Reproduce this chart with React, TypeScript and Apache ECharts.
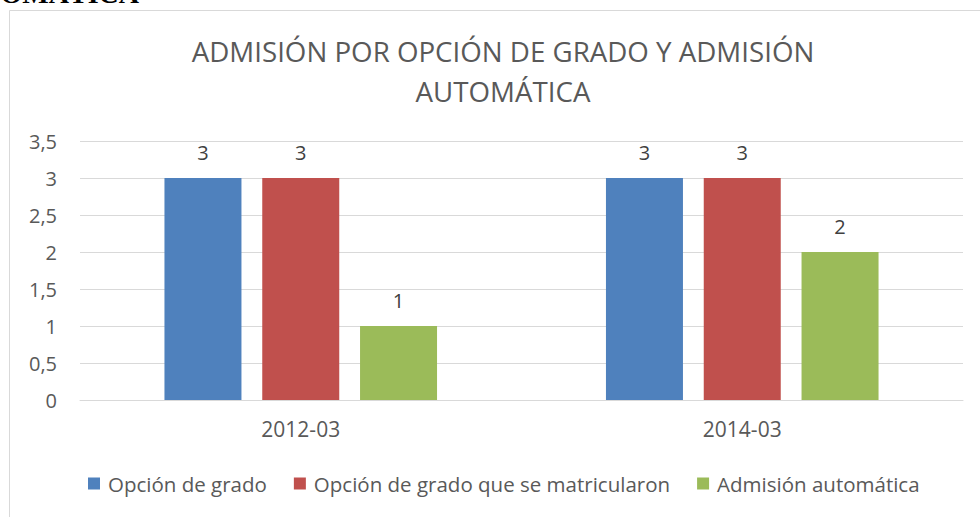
import React, { useEffect, useRef } from "react";
import * as echarts from "echarts";

const categories = ["2012-03", "2014-03"];
const seriesNames = [
  "Opción de grado",
  "Opción de grado que se matricularon",
  "Admisión automática",
];
const opcionGrado = [3, 3];
const opcionMatricularon = [3, 3];
const admisionAutomatica = [1, 2];
const colors = ["#4f81bd", "#c0504d", "#9bbb59"];
const titleText = "ADMISIÓN POR OPCIÓN DE GRADO Y ADMISIÓN\nAUTOMÁTICA";
const headingText = "AUTOMÁTICA";

const FONT = "'Open Sans', sans-serif";

export default function App() {
  const ref = useRef<HTMLDivElement>(null);
  useEffect(() => {
    document.body.style.margin = "0";
    if (!ref.current) return;
    const chart = echarts.init(ref.current, undefined, { renderer: "svg" });
    const values = [opcionGrado, opcionMatricularon, admisionAutomatica];
    chart.setOption({
      animation: false,
      backgroundColor: "#ffffff",
      textStyle: { fontFamily: FONT },
      title: {
        text: titleText,
        left: 498,
        top: 26,
        textAlign: "center",
        textStyle: {
          fontFamily: FONT,
          fontSize: 27.7,
          fontWeight: "normal",
          color: "#595959",
          lineHeight: 40,
        },
      },
      graphic: [
        {
          type: "rect",
          shape: { x: 9.5, y: 10.5, width: 1200, height: 700 },
          style: { fill: "none", stroke: "#d9d9d9", lineWidth: 1 },
          silent: true,
        },
        {
          type: "text",
          x: 139,
          y: 7,
          style: {
            text: headingText,
            fontFamily: "'Liberation Serif', serif",
            fontWeight: "bold",
            fontSize: 28,
            fill: "#000000",
            align: "right",
            verticalAlign: "bottom",
          },
          silent: true,
        },
      ],
      legend: {
        left: 83,
        top: 468,
        width: 900,
        icon: "rect",
        itemWidth: 12,
        itemHeight: 12,
        itemGap: 27,
        textStyle: {
          fontFamily: FONT,
          fontSize: 20.5,
          color: "#595959",
          padding: [0, 0, 0, 3],
        },
        data: seriesNames,
      },
      grid: { left: 80, right: 17, top: 141, bottom: 117, containLabel: false },
      xAxis: {
        type: "category",
        data: categories,
        axisLine: { lineStyle: { color: "#d9d9d9", width: 1 } },
        axisTick: { show: false },
        axisLabel: {
          fontFamily: FONT,
          fontSize: 21,
          color: "#595959",
          margin: 18,
        },
      },
      yAxis: {
        type: "value",
        min: 0,
        max: 3.5,
        interval: 0.5,
        axisLine: { show: false },
        axisTick: { show: false },
        splitLine: { lineStyle: { color: "#d9d9d9", width: 1 } },
        axisLabel: {
          fontFamily: FONT,
          fontSize: 20,
          color: "#595959",
          margin: 23,
          formatter: (v: number) => String(v).replace(".", ","),
        },
      },
      series: seriesNames.map((name, i) => ({
        name,
        type: "bar",
        data: values[i],
        barWidth: 77,
        barGap: "27%",
        itemStyle: { color: colors[i] },
        label: {
          show: true,
          position: "top",
          distance: 16,
          fontFamily: FONT,
          fontSize: 20,
          color: "#404040",
        },
      })),
    });
    return () => chart.dispose();
  }, []);
  return (
    <div
      ref={ref}
      style={{ position: "absolute", left: 0, top: 0, width: 980, height: 517 }}
    />
  );
}
